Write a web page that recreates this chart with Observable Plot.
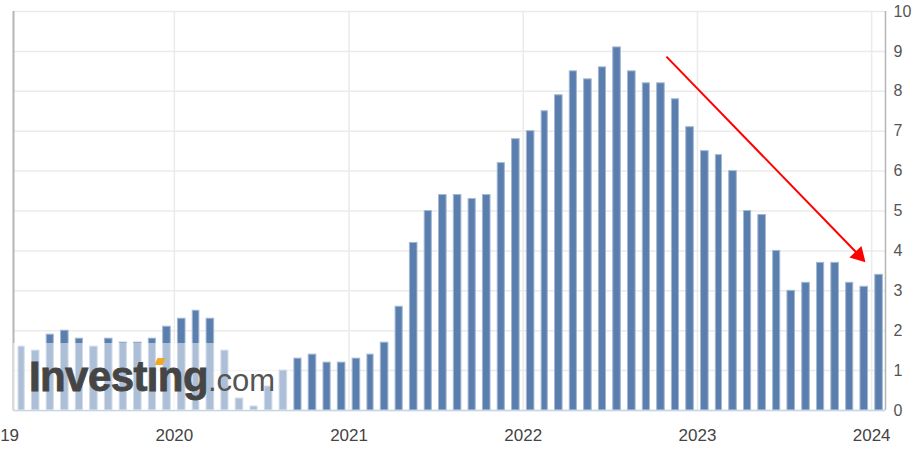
<!DOCTYPE html>
<html><head><meta charset="utf-8">
<script src="https://cdn.jsdelivr.net/npm/d3@7"></script>
<script src="https://cdn.jsdelivr.net/npm/@observablehq/plot@0.6"></script>
<style>
body{margin:0;background:#fff;}
#wrap{position:relative;width:912px;height:458px;overflow:hidden;font-family:"Liberation Sans",Arial,sans-serif;}
#veil{position:absolute;left:13px;top:343px;width:277px;height:67px;background:rgba(255,255,255,0.5);}
#wm{position:absolute;left:29px;top:356px;line-height:1;white-space:nowrap;color:#454545;}
#wm .b{font-weight:bold;font-size:42px;letter-spacing:-0.6px;-webkit-text-stroke:0.8px #454545;}
#wm .c{font-weight:normal;font-size:31px;color:#555;}
#dot{position:absolute;left:156px;top:358px;width:8px;height:7px;background:#f5a623;transform:skewX(-22deg);}
</style></head>
<body><div id="wrap"></div>
<script>
// monthly US CPI YoY (%), data months Jan 2019 .. Dec 2023, plotted at release date
const startYear = 2019;
const releaseDay = 13;
const cpi2019 = [1.6, 1.5, 1.9, 2.0, 1.8, 1.6, 1.8, 1.7, 1.7, 1.8, 2.1, 2.3];
const cpi2020 = [2.5, 2.3, 1.5, 0.3, 0.1, 0.6, 1.0, 1.3, 1.4, 1.2, 1.2, 1.3];
const cpi2021 = [1.4, 1.7, 2.6, 4.2, 5.0, 5.4, 5.4, 5.3, 5.4, 6.2, 6.8, 7.0];
const cpi2022 = [7.5, 7.9, 8.5, 8.3, 8.6, 9.1, 8.5, 8.2, 8.2, 7.8, 7.1, 6.5];
const cpi2023 = [6.4, 6.0, 5.0, 4.9, 4.0, 3.0, 3.2, 3.7, 3.7, 3.2, 3.1, 3.4];
const yearLabels = [2019, 2020, 2021, 2022, 2023, 2024];
const yTicks = [0, 1, 2, 3, 4, 5, 6, 7, 8, 9, 10];
// red trend arrow (date, value) start and tip
const arrowStart = {date: "2022-10-28", value: 8.87};
const arrowEnd = {date: "2023-11-30", value: 3.96};
const arrowTip = {date: "2023-12-05", value: 3.89};

const cpi = [...cpi2019, ...cpi2020, ...cpi2021, ...cpi2022, ...cpi2023];
const data = cpi.map((v, i) => ({date: new Date(Date.UTC(startYear, i + 1, releaseDay)), value: v}));
const yearDates = yearLabels.map(y => new Date(Date.UTC(y, 0, 1)));
const x0 = new Date(Date.UTC(2019, 0, 29));
const x1 = new Date(Date.UTC(2024, 0, 30));
const P = s => new Date(s + "T00:00:00Z");

const chart = Plot.plot({
  width: 912, height: 458,
  marginLeft: 13, marginRight: 27, marginTop: 11, marginBottom: 48,
  style: {fontFamily: "Liberation Sans, Arial, sans-serif", fontSize: "16px", color: "#444", background: "#fff", overflow: "visible"},
  x: {type: "utc", domain: [x0, x1]},
  y: {domain: [0, 10]},
  marks: [
    Plot.gridY(yTicks, {stroke: "#ebebeb", strokeOpacity: 1, strokeWidth: 1.5}),
    Plot.gridX(yearDates.slice(1), {stroke: "#ebebeb", strokeOpacity: 1, strokeWidth: 1.5}),
    Plot.rectY(data, {x: "date", y: "value", interval: d3.utcMonth, insetLeft: 3.6, insetRight: 3.6,
      fill: "#5a7fae", stroke: "#a3b8d2", strokeWidth: 1}),
    Plot.ruleY([0], {stroke: "#c8d5e5", strokeWidth: 1.5}),
    Plot.ruleX([x0], {stroke: "#b5b5b5", strokeWidth: 2}),
    Plot.ruleX([x1], {stroke: "#b5b5b5", strokeWidth: 1.5}),
    Plot.axisX(yearDates, {tickSize: 0, tickPadding: 18, tickFormat: d3.utcFormat("%Y"), fontSize: 17, fill: "#444"}),
    Plot.axisY(yTicks, {anchor: "right", tickSize: 0, tickPadding: 8, fontSize: 16, fill: "#555", label: null}),
    Plot.link([0], {x1: () => P(arrowStart.date), y1: () => arrowStart.value,
      x2: () => P(arrowEnd.date), y2: () => arrowEnd.value, stroke: "#ff0000", strokeWidth: 2}),
    Plot.dot([arrowTip], {x: d => P(d.date), y: "value", symbol: "triangle", r: 6.2, fill: "#ff0000", stroke: "none", rotate: 136})
  ]
});
const wrap = document.getElementById("wrap");
wrap.appendChild(chart);
wrap.insertAdjacentHTML("beforeend",
  '<div id="veil"></div><div id="wm"><span class="b">Investıng</span><span class="c">.com</span></div><div id="dot"></div>');
</script>
</body></html>
